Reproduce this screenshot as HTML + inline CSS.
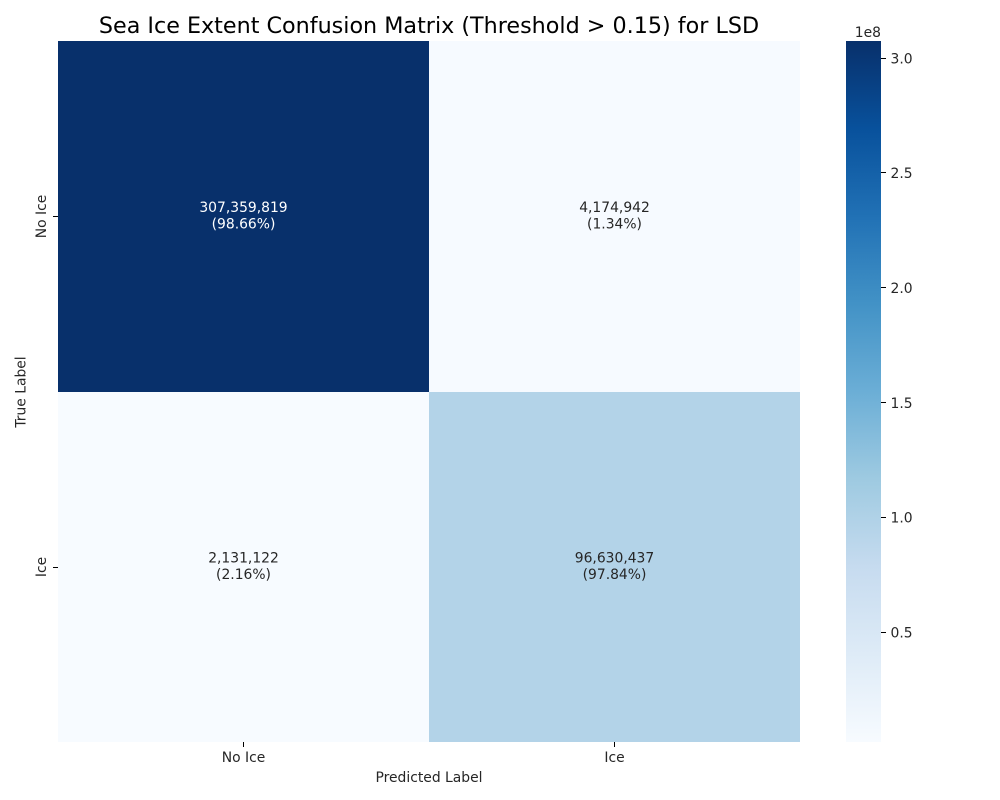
<!DOCTYPE html>
<html lang="en">
<head>
<meta charset="utf-8">
<title>Sea Ice Extent Confusion Matrix</title>
<style>
html,body{margin:0;padding:0;background:#fff;width:1000px;height:800px;overflow:hidden}
svg{display:block}
text{font-family:"DejaVu Sans","Liberation Sans",sans-serif;fill:#262626}
</style>
</head>
<body>
<svg id="chart" xmlns="http://www.w3.org/2000/svg" width="1000" height="800" viewBox="0 0 1000 800">
  <defs>
    <linearGradient id="blues-gradient" x1="0" y1="1" x2="0" y2="0"></linearGradient>
  </defs>
  <text x="429" y="33" text-anchor="middle" font-size="22.25" style="fill:#000">Sea Ice Extent Confusion Matrix (Threshold &gt; 0.15) for LSD</text>
  <text x="429" y="782" text-anchor="middle" font-size="13.89">Predicted Label</text>
  <text x="0" y="0" transform="translate(25.5 392) rotate(-90)" text-anchor="middle" font-size="13.89">True Label</text>
  <text x="881" y="37" text-anchor="end" font-size="13.89">1e8</text>
</svg>
<script>
const rowLabels = ["No Ice", "Ice"];
const colLabels = ["No Ice", "Ice"];
const matrixValues = [
  [307359819, 4174942],
  [2131122, 96630437]
];
const colorbarTicks = [0.5, 1.0, 1.5, 2.0, 2.5, 3.0];
const colorbarScale = 1e8;
const bluesStops = ["#f7fbff", "#deebf7", "#c6dbef", "#9ecae1", "#6baed6", "#4292c6", "#2171b5", "#08519c", "#08306b"];

const NS = "http://www.w3.org/2000/svg";
const svg = document.getElementById("chart");
const plot = { left: 58, right: 800, top: 41, bottom: 742 };
const bar = { left: 846, right: 881 };

const allValues = matrixValues.flat();
const vMin = Math.min.apply(null, allValues);
const vMax = Math.max.apply(null, allValues);

function xBand(i) {
  return plot.left + (plot.right - plot.left) * i / colLabels.length;
}
function yBand(i) {
  return Math.round(plot.top + (plot.bottom - plot.top) * i / rowLabels.length);
}
function xTick(i) {
  return Math.floor(58.5 + 741.5 * (i + 0.5) / colLabels.length) + 0.5;
}
function yBar(v) {
  return plot.bottom - (v - vMin) / (vMax - vMin) * (plot.bottom - plot.top);
}
function hexRgb(h) {
  return [1, 3, 5].map(function (p) { return parseInt(h.slice(p, p + 2), 16); });
}
function blues(t) {
  const clamped = Math.max(0, Math.min(1, t));
  const pos = clamped * (bluesStops.length - 1);
  const i = Math.min(Math.floor(pos), bluesStops.length - 2);
  const f = pos - i;
  const a = hexRgb(bluesStops[i]);
  const b = hexRgb(bluesStops[i + 1]);
  return a.map(function (c, k) { return c + (b[k] - c) * f; });
}
function cssColor(rgb) {
  return "rgb(" + rgb.map(Math.round).join(",") + ")";
}
function make(tag, attrs, parent) {
  const el = document.createElementNS(NS, tag);
  Object.keys(attrs).forEach(function (k) { el.setAttribute(k, attrs[k]); });
  (parent || svg).appendChild(el);
  return el;
}

/* heatmap cells */
matrixValues.forEach(function (row, r) {
  const total = row.reduce(function (s, v) { return s + v; }, 0);
  row.forEach(function (value, c) {
    const t = (value - vMin) / (vMax - vMin);
    const rgb = blues(t);
    const x0 = xBand(c), x1 = xBand(c + 1), y0 = yBand(r), y1 = yBand(r + 1);
    const cell = make("rect", { x: x0, y: y0, width: x1 - x0, height: y1 - y0, fill: cssColor(rgb), "shape-rendering": "crispEdges" });
    
    

    const lum = (0.2126 * rgb[0] + 0.7152 * rgb[1] + 0.0722 * rgb[2]) / 255;
    const ink = lum > 0.408 ? "#262626" : "#ffffff";
    const cx = (x0 + x1) / 2, cy = (y0 + y1) / 2;

    const count = make("text", { x: cx, y: cy - 4.5, "text-anchor": "middle", "font-size": 13.89 });
    count.style.fill = ink;
    count.textContent = value.toLocaleString("en-US");
    
    

    const pct = make("text", { x: cx, y: cy + 12, "text-anchor": "middle", "font-size": 13.89 });
    pct.style.fill = ink;
    pct.textContent = "(" + (value / total * 100).toFixed(2) + "%)";
    
    
  });
});

/* x axis ticks */
colLabels.forEach(function (label, i) {
  const x = (xBand(i) + xBand(i + 1)) / 2;
  const tx = xTick(i);
  const tick = make("line", { x1: tx, x2: tx, y1: plot.bottom, y2: plot.bottom + 5, stroke: "#000", "stroke-width": 1, "shape-rendering": "crispEdges" });
  
  
  const text = make("text", { x: x, y: 762, "text-anchor": "middle", "font-size": 13.89 });
  text.textContent = label;
  
  
});

/* y axis ticks */
rowLabels.forEach(function (label, i) {
  const y = (yBand(i) + yBand(i + 1)) / 2;
  const ty = Math.floor(y) + 0.5;
  const tick = make("line", { x1: plot.left - 5, x2: plot.left, y1: ty, y2: ty, stroke: "#000", "stroke-width": 1, "shape-rendering": "crispEdges" });
  
  
  const text = make("text", { x: 0, y: 0, transform: "translate(46 " + y + ") rotate(-90)", "text-anchor": "middle", "font-size": 13.89 });
  text.textContent = label;
  
  
});

/* colorbar */
const gradient = document.getElementById("blues-gradient");
bluesStops.forEach(function (color, i) {
  make("stop", { offset: i / (bluesStops.length - 1), "stop-color": color }, gradient);
});
const colorbar = make("rect", { x: bar.left, y: plot.top, width: bar.right - bar.left, height: plot.bottom - plot.top, fill: "url(#blues-gradient)" });



colorbarTicks.forEach(function (tickValue) {
  const y = yBar(tickValue * colorbarScale);
  const ty = Math.round(y - 0.3) + 0.5;
  const tick = make("line", { x1: bar.right, x2: bar.right + 5, y1: ty, y2: ty, stroke: "#000", "stroke-width": 1, "shape-rendering": "crispEdges" });
  
  
  const text = make("text", { x: bar.right + 9.5, y: y + 5.5, "font-size": 13.89 });
  text.textContent = tickValue.toFixed(1);
  
  
});
</script>
</body>
</html>
